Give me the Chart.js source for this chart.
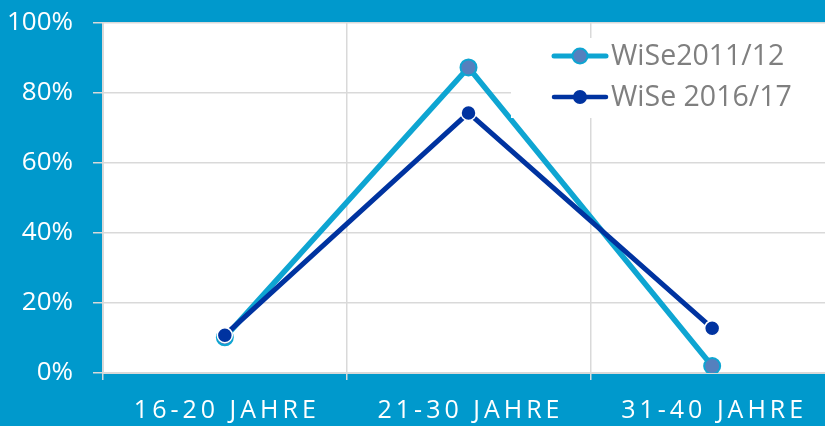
<!DOCTYPE html>
<html>
<head>
<meta charset="utf-8">
<script src="https://cdn.jsdelivr.net/npm/chart.js@4"></script>
<style>
  html, body { margin: 0; padding: 0; background: #0099cc; overflow: hidden; }
  #wrap { width: 825px; height: 426px; overflow: hidden; }
  #box { width: 844px; height: 426px; position: relative; }
</style>
</head>
<body>
<div id="wrap"><div id="box"><canvas id="chart"></canvas></div></div>
<script>
// values (percent)
const categories = ["16-20 JAHRE", "21-30 JAHRE", "31-40 JAHRE"];
const seriesNames = ["WiSe2011/12", "WiSe 2016/17"];
const wise2011 = [10.2, 87.3, 2.0];
const wise2016 = [10.8, 74.3, 12.8];
const yTicks = [0, 20, 40, 60, 80, 100];

const LIGHT = "#0ea5d2";
const DARK = "#0033a0";
const GRID = "#d9d9d9";

// white plot area on the blue page
const plotBg = {
  id: "plotBg",
  beforeDraw(chart) {
    const { ctx, chartArea: a } = chart;
    ctx.save();
    ctx.fillStyle = "#ffffff";
    ctx.fillRect(a.left, a.top, a.right - a.left, a.bottom - a.top);
    ctx.restore();
  }
};

// spaced x labels + legend with white box (covers the lines like the original)
const extras = {
  id: "extras",
  afterDraw(chart) {
    const ctx = chart.ctx;
    const x = chart.scales.x;
    ctx.save();
    ctx.fillStyle = "#ffffff";
    ctx.font = "25px 'Open Sans'";
    ctx.letterSpacing = "4px";
    ctx.textAlign = "center";
    ctx.textBaseline = "middle";
    categories.forEach((c, i) => {
      ctx.fillText(c, x.getPixelForTick(i) + 2, 411);
    });
    ctx.restore();

    // legend
    ctx.save();
    ctx.fillStyle = "#ffffff";
    ctx.fillRect(511, 38, 330, 80);
    const rows = [
      { y: 56, color: LIGHT, fill: "#5580be", lw: 5, r: 7.5, name: seriesNames[0] },
      { y: 97, color: DARK, fill: DARK, lw: 4.5, r: 6, name: seriesNames[1] }
    ];
    rows.forEach(row => {
      ctx.strokeStyle = row.color;
      ctx.lineWidth = row.lw;
      ctx.lineCap = "round";
      ctx.beginPath();
      ctx.moveTo(554, row.y);
      ctx.lineTo(606, row.y);
      ctx.stroke();
      ctx.beginPath();
      ctx.arc(580, row.y, row.r, 0, Math.PI * 2);
      ctx.fillStyle = row.fill;
      ctx.fill();
      ctx.lineWidth = 2;
      ctx.stroke();
      ctx.fillStyle = "#7f7f7f";
      ctx.font = "28.5px 'Open Sans'";
      ctx.textAlign = "left";
      ctx.textBaseline = "middle";
      ctx.fillText(row.name, 611, row.y + 1);
    });
    ctx.restore();
  }
};

new Chart(document.getElementById("chart"), {
  type: "line",
  data: {
    labels: categories,
    datasets: [
      {
        label: seriesNames[0],
        data: wise2011,
        borderColor: LIGHT,
        borderWidth: 5.5,
        pointRadius: 8,
        pointBackgroundColor: "#5580be",
        pointBorderColor: LIGHT,
        pointBorderWidth: 2,
        tension: 0,
        order: 1
      },
      {
        label: seriesNames[1],
        data: wise2016,
        borderColor: DARK,
        borderWidth: 5,
        pointRadius: 7.5,
        pointBackgroundColor: DARK,
        pointBorderColor: "#ffffff",
        pointBorderWidth: 1.5,
        tension: 0,
        order: 0
      }
    ]
  },
  options: {
    responsive: true,
    maintainAspectRatio: false,
    animation: false,
    layout: { padding: { top: 23, bottom: 46, left: 0, right: 0 } },
    plugins: {
      legend: { display: false },
      tooltip: { enabled: false }
    },
    scales: {
      x: {
        offset: true,
        grid: { offset: true, color: GRID, lineWidth: 1.5, tickLength: 7 },
        border: { color: GRID, width: 2 },
        ticks: { display: false }
      },
      y: {
        min: 0,
        max: 100,
        afterFit(scale) {
          scale.width = 103;
          scale.paddingTop = 0;
          scale.paddingBottom = 0;
        },
        afterBuildTicks(scale) { scale.ticks = yTicks.map(v => ({ value: v })); },
        grid: { color: GRID, lineWidth: 1.5, tickLength: 10 },
        border: { color: GRID, width: 2 },
        ticks: {
          color: "#ffffff",
          padding: 20,
          font: { family: "'Open Sans'", size: 26 },
          callback: v => v + "%"
        }
      }
    }
  },
  plugins: [plotBg, extras]
});
</script>
</body>
</html>
